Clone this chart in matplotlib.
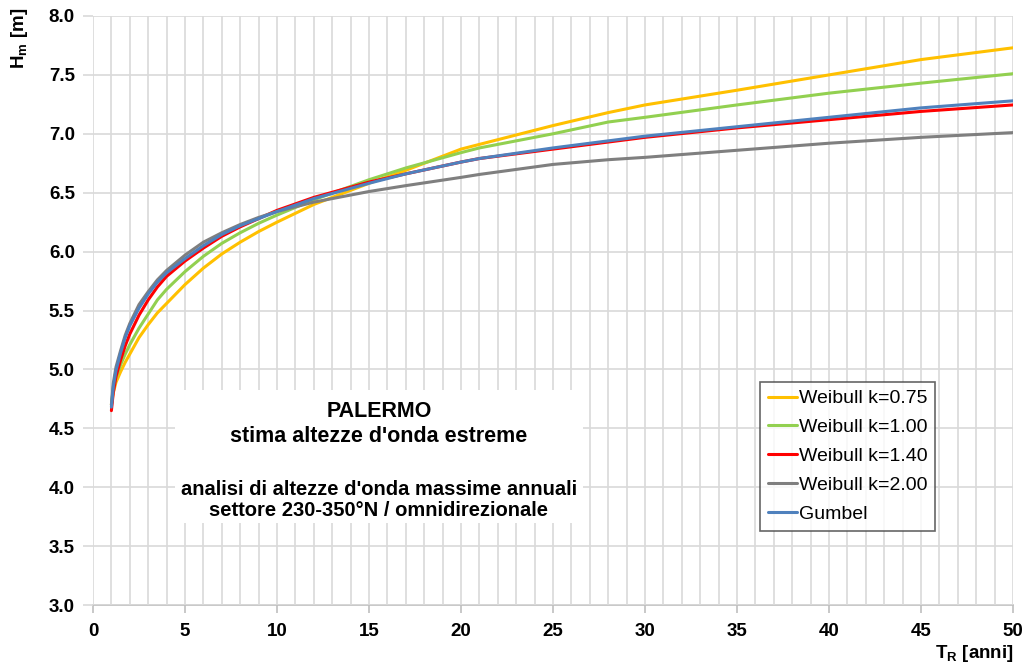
import matplotlib
matplotlib.use("Agg")
import matplotlib.pyplot as plt
from matplotlib.ticker import MultipleLocator
from matplotlib.patches import Rectangle

plt.rcParams['font.family'] = ['Liberation Sans', 'DejaVu Sans']
plt.rcParams['mathtext.fontset'] = 'custom'
plt.rcParams['mathtext.rm'] = 'Liberation Sans:bold'
plt.rcParams['mathtext.bf'] = 'Liberation Sans:bold'
plt.rcParams['mathtext.it'] = 'Liberation Sans:bold'

# Return periods (years)
tr = [1, 1.1, 1.25, 1.5, 1.75, 2, 2.5, 3, 3.5, 4, 5, 6, 7, 8, 9, 10, 12, 15, 17, 20, 21, 25, 28, 30, 35, 40, 45, 50]

weib_075 = [4.70, 4.80, 4.89, 4.98, 5.06, 5.13, 5.27, 5.38, 5.48, 5.56, 5.72, 5.86, 5.98, 6.08, 6.17, 6.25, 6.40, 6.58, 6.69, 6.87, 6.91, 7.07, 7.18, 7.245, 7.37, 7.50, 7.63, 7.73]
weib_100 = [4.70, 4.83, 4.93, 5.04, 5.13, 5.21, 5.35, 5.47, 5.59, 5.68, 5.83, 5.96, 6.07, 6.16, 6.24, 6.31, 6.44, 6.61, 6.71, 6.84, 6.88, 7.00, 7.10, 7.14, 7.245, 7.345, 7.43, 7.51]
weib_140 = [4.65, 4.80, 4.94, 5.08, 5.20, 5.30, 5.46, 5.59, 5.70, 5.79, 5.92, 6.03, 6.13, 6.21, 6.28, 6.35, 6.46, 6.59, 6.66, 6.76, 6.79, 6.87, 6.93, 6.97, 7.05, 7.12, 7.19, 7.245]
weib_200 = [4.70, 4.88, 5.02, 5.16, 5.29, 5.39, 5.55, 5.66, 5.76, 5.84, 5.97, 6.08, 6.16, 6.23, 6.29, 6.34, 6.42, 6.51, 6.56, 6.63, 6.655, 6.74, 6.78, 6.80, 6.86, 6.92, 6.97, 7.01]
gumbel   = [4.68, 4.85, 4.99, 5.14, 5.27, 5.37, 5.52, 5.64, 5.74, 5.82, 5.94, 6.05, 6.145, 6.22, 6.28, 6.34, 6.45, 6.58, 6.66, 6.76, 6.79, 6.88, 6.94, 6.98, 7.06, 7.14, 7.22, 7.28]

series_labels = ['Weibull k=0.75', 'Weibull k=1.00', 'Weibull k=1.40', 'Weibull k=2.00', 'Gumbel']
series_colors = ['#FFC000', '#92D050', '#FF0000', '#7F7F7F', '#4F81BD']
series_values = [weib_075, weib_100, weib_140, weib_200, gumbel]

x_ticks = [0, 5, 10, 15, 20, 25, 30, 35, 40, 45, 50]
y_ticks = [3.0, 3.5, 4.0, 4.5, 5.0, 5.5, 6.0, 6.5, 7.0, 7.5, 8.0]

title_lines = "PALERMO\nstima altezze d'onda estreme"
subtitle_lines = "analisi di altezze d'onda massime annuali\nsettore 230-350°N / omnidirezionale"

X0, X1, Y0, Y1 = 93, 1013, 605, 16
W, H = 1029, 671
fig = plt.figure(figsize=(W/100, H/100), dpi=100)
ax = fig.add_axes([X0/W, 1-Y0/H, (X1-X0)/W, (Y0-Y1)/H])

def ax_xy(px, py):
    return (px - X0)/(X1 - X0), (Y0 - py)/(Y0 - Y1)

for vals, lab, col in zip(series_values, series_labels, series_colors):
    ax.plot(tr, vals, color=col, lw=2.2, label=lab, zorder=4,
            solid_capstyle='round', solid_joinstyle='round')

ax.set_xlim(0, 50)
ax.set_ylim(3.0, 8.0)
ax.set_xticks(x_ticks)
ax.set_yticks(y_ticks)
ax.set_yticklabels([f"{v:.1f}" for v in y_ticks])
ax.xaxis.set_minor_locator(MultipleLocator(1))
ax.grid(which='major', axis='y', color='#D9D9D9', lw=1.2, zorder=0)
ax.grid(which='both', axis='x', color='#D9D9D9', lw=1.2, zorder=0)
for s in ax.spines.values():
    s.set_visible(False)
ax.axhline(3.0, color='#BFBFBF', lw=1.2, zorder=1, clip_on=False)
ax.tick_params(axis='y', length=7, color='#D9D9D9', width=1.2, pad=6, labelsize=13.5)
ax.tick_params(axis='x', which='major', length=6, color='#BFBFBF', width=1.2, pad=7, labelsize=13.5)
ax.tick_params(axis='x', which='minor', length=0)
for lab in ax.get_xticklabels() + ax.get_yticklabels():
    lab.set_fontweight('bold')

# white panel behind the annotation
rx0, ry0 = ax_xy(175, 523)
rx1, ry1 = ax_xy(583, 390)
ax.add_patch(Rectangle((rx0, ry0), rx1 - rx0, ry1 - ry0, transform=ax.transAxes,
                       facecolor='white', edgecolor='none', zorder=2))
tx, ty = ax_xy(379, 424)
ax.text(tx, ty, title_lines, transform=ax.transAxes, ha='center', va='center',
        fontsize=15.5, fontweight='bold', linespacing=1.2, zorder=3)
tx, ty = ax_xy(379, 500)
ax.text(tx, ty, subtitle_lines, transform=ax.transAxes, ha='center', va='center',
        fontsize=14.5, fontweight='bold', linespacing=1.15, zorder=3)

lx, ly = ax_xy(760, 382)
leg = ax.legend(loc='upper left', bbox_to_anchor=(lx, ly), fontsize=14,
                frameon=True, fancybox=False, handlelength=1.5, handletextpad=0.1,
                borderpad=0.4, labelspacing=0.58, borderaxespad=0)
leg.get_frame().set_edgecolor('#404040')
leg.get_frame().set_linewidth(1.2)
leg.set_zorder(5)

fig.text(19/W, 1-38/H, r"H$_{m}$ [m]", rotation=90, ha='center', va='center',
         fontsize=13.5, fontweight='bold')
fig.text(974/W, 1-654/H, r"T$_{R}$ [anni]", ha='center', va='center',
         fontsize=13.5, fontweight='bold')

fig.savefig('out.png', dpi=100)
